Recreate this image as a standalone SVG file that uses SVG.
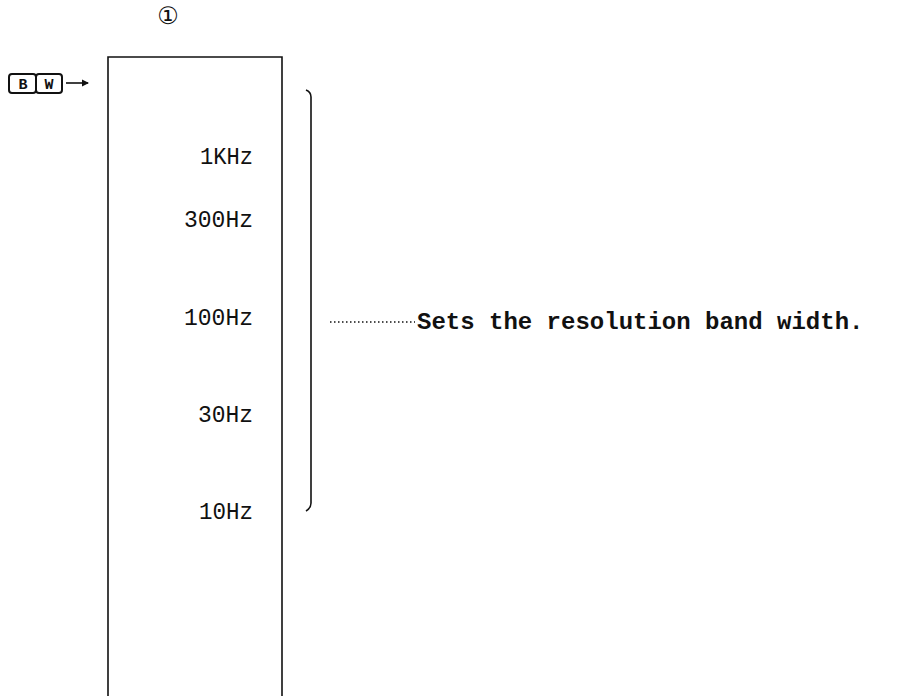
<svg xmlns="http://www.w3.org/2000/svg" width="911" height="696" viewBox="0 0 911 696">
<style>
.lbl{font-family:"Liberation Mono","DejaVu Sans Mono",monospace;font-size:24px;fill:#111;text-anchor:end}
.ln{stroke:#111;stroke-width:1.6;fill:none}
.key{stroke:#111;stroke-width:2;fill:none}
.desc{font-family:"Liberation Mono","Courier New",monospace;font-size:24px;fill:#111;font-weight:bold}
</style>
<rect width="911" height="696" fill="#fff"/>
<g id="circle1">
<text x="168" y="24" font-family="DejaVu Sans, sans-serif" font-size="24" text-anchor="middle" fill="#111">①</text>
</g>
<g id="bw-key">
<rect x="9" y="74" width="27" height="19" rx="3" class="key"/>
<rect x="36" y="74" width="26" height="19" rx="3" class="key"/>
<text x="23" y="89" font-family="Liberation Mono, monospace" font-size="15" font-weight="bold" text-anchor="middle" fill="#111">B</text>
<text x="49" y="89" font-family="Liberation Mono, monospace" font-size="15" font-weight="bold" text-anchor="middle" fill="#111">W</text>
</g>
<g id="menu">
<path class="ln" d="M108 696 V57 H282 V696"/>
<text class="lbl" x="253" y="164" textLength="53" lengthAdjust="spacingAndGlyphs">1KHz</text>
<text class="lbl" x="253" y="227" textLength="69" lengthAdjust="spacingAndGlyphs">300Hz</text>
<text class="lbl" x="253" y="325" textLength="69" lengthAdjust="spacingAndGlyphs">100Hz</text>
<text class="lbl" x="253" y="422" textLength="55" lengthAdjust="spacingAndGlyphs">30Hz</text>
<text class="lbl" x="253" y="519" textLength="54" lengthAdjust="spacingAndGlyphs">10Hz</text>
</g>
<g id="connectors">
<path class="ln" d="M66 83 H88"/>
<path d="M89 83 l-7 -3.5 v7 z" fill="#111"/>
<path class="ln" d="M306 90 Q311 92 311 97 V503 Q311 508 306 511"/>
<path d="M330 322 H415" stroke="#111" stroke-width="1.6" stroke-dasharray="1.5 2.5" fill="none"/>
</g>
<g id="description">
<text class="desc" x="417" y="329">Sets the resolution band width.</text>
</g>
</svg>
